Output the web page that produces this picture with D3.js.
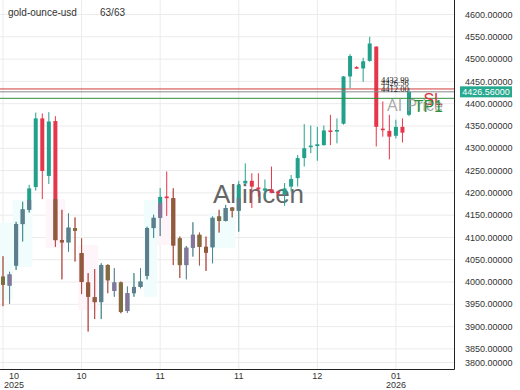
<!DOCTYPE html>
<html>
<head>
<meta charset="utf-8">
<script src="https://cdn.jsdelivr.net/npm/d3@7"></script>
<style>
  body { margin: 0; background: #fff; }
  svg { display: block; font-family: "Liberation Sans", Arial, sans-serif; }
</style>
</head>
<body>
<svg id="chart" width="520" height="390"></svg>
<script>
// ---- data ----
const symbol = "gold-ounce-usd";
const counter = "63/63";

const opens  = [4012,3992,4037,4130,4162,4213,4367,4238,4361,4094,4089,4121,4065,3999,3966,3955,4038,3980,3999,3935,
                3975,3989,4014,4121,4144,4192,4188,4098,4038,4077,4106,4079,4078,4147,4137,4167,4160,4221,4227,4212,
                4205,4208,4203,4197,4214,4233,4278,4303,4305,4307,4340,4338,4355,4461,4482,4479,4496,4528,4344,4339,
                4328,4348,4375];
const highs  = [4058,4023,4135,4180,4218,4380,4378,4381,4372,4162,4154,4145,4098,4020,4029,4042,4040,4031,4001,3990,
                4020,4031,4124,4151,4211,4248,4210,4102,4081,4134,4111,4102,4147,4162,4173,4168,4227,4266,4244,4244,
                4230,4259,4205,4222,4240,4285,4354,4351,4348,4351,4375,4367,4462,4511,4484,4503,4550,4529,4405,4375,
                4364,4367,4435];
const lows   = [3946,3951,4027,4091,4156,4205,4186,4220,4079,4006,4068,4046,3973,3889,3917,3917,3975,3967,3930,3931,
                3967,3986,4006,4099,4103,4148,4038,4009,4006,4057,4037,4025,4042,4111,4136,4145,4113,4220,4166,4192,
                4185,4199,4193,4171,4203,4214,4259,4289,4272,4306,4307,4311,4353,4435,4478,4449,4494,4304,4326,4275,
                4322,4313,4372];
const closes = [3994,4017,4130,4163,4210,4367,4249,4360,4094,4089,4122,4115,4000,3967,3955,4038,4004,3999,3933,3975,
                3989,4001,4121,4144,4191,4188,4082,4038,4077,4106,4079,4066,4144,4137,4166,4160,4218,4227,4214,4208,
                4210,4200,4199,4210,4231,4278,4300,4306,4309,4340,4337,4341,4461,4507,4479,4495,4535,4348,4341,4326,
                4348,4335,4426.56];

// muted candle tints (s slate, p purple, b brown, o olive); missing = normal colours
const tint = ["o","p","s","s","s","","","","b","b","s","o","b","b","b","s","o","p","o","p",
              "s","s","s","s","p","","b","o","p","p","o","b","s","o","s","o","s"];
// candles only tinted below this price
const tintBelow = { 4: 4184, 8: 4186, 24: 4177, 36: 4188 };

// faint highlight boxes: first / last candle, top / bottom price
const zoneType = ["c","c","p","p","c","p","c"];
const zoneFrom = [0, 2, 7, 12, 22, 24, 32];
const zoneTo   = [1, 4, 9, 14, 23, 25, 35];
const zoneHigh = [4133, 4184, 4186, 4083, 4184, 4191, 4155];
const zoneLow  = [3960, 4034, 4076, 3937, 3967, 4083, 4076];

const yTicks = [4600,4550,4500,4450,4400,4350,4300,4250,4200,4150,4100,4050,4000,3950,3900,3850,3800];
const tickIdx = [0, 12, 24, 36, 48, 60];
const tickMonths = ["10","10","11","11","12","01"];
const tickYears  = ["2025","","","","","2026"];

const levelNames  = ["SL", "AI Price", "TP1"];
const levelValues = [4432.99, 4426.56, 4412.00];
const lastPrice = 4426.56;

// ---- styles ----
const upColor = "#22a08c", downColor = "#e5374b";
const tintColors = { s: "#5f7d8d", p: "#88739b", b: "#8c5c3d", o: "#7c6e3f" };
const zoneColors = { c: "#f0fdfc", p: "#fef5fa" };
const levelColors = ["#d23a3a", "#8a8a8a", "#2f8f3a"];
const levelTextColors = ["#d8343c", "#9a9a9a", "#2f8f3a"];
const levelNameDy = [16, 19, 14];

const plotW = 454, plotH = 369;

const svg = d3.select("#chart");

const x = d3.scalePoint()
  .domain(d3.range(opens.length))
  .range([3, 409]);
const step = x.step();
const bodyW = 4;

const y = d3.scaleLinear()
  .domain([3805, 4632.5])
  .range([plotH, 0]);

const clampY = v => Math.min(y(v), plotH - 6.5);

const plot = svg.append("g");

// grid
plot.append("g")
  .selectAll("line")
  .data(yTicks)
  .join("line")
  .attr("x1", 0)
  .attr("x2", plotW)
  .attr("y1", d => clampY(d))
  .attr("y2", d => clampY(d))
  .attr("stroke", "#ebebeb");

plot.append("g")
  .selectAll("line")
  .data(tickIdx)
  .join("line")
  .attr("x1", d => x(d))
  .attr("x2", d => x(d))
  .attr("y1", 0)
  .attr("y2", plotH)
  .attr("stroke", "#ebebeb");

// highlight zones
plot.append("g")
  .selectAll("rect")
  .data(zoneType)
  .join("rect")
  .attr("x", (d, i) => x(zoneFrom[i]) - step / 2)
  .attr("width", (d, i) => x(zoneTo[i]) - x(zoneFrom[i]) + step)
  .attr("y", (d, i) => y(zoneHigh[i]))
  .attr("height", (d, i) => y(zoneLow[i]) - y(zoneHigh[i]))
  .attr("fill", d => zoneColors[d]);

// watermark
plot.append("text")
  .attr("x", 213)
  .attr("y", 203)
  .attr("font-size", 26)
  .attr("fill", "#666")
  .text("Allincen");

// candles
const candles = opens.map((o, i) => ({
  i, o, h: highs[i], l: lows[i], c: closes[i],
  tint: tint[i] || "", below: tintBelow[i]
}));

const baseColor = d => d.c >= d.o ? upColor : downColor;

const cg = plot.append("g");

cg.selectAll(".wick")
  .data(candles)
  .join("line")
  .attr("class", "wick")
  .attr("x1", d => x(d.i))
  .attr("x2", d => x(d.i))
  .attr("y1", d => y(d.h))
  .attr("y2", d => y(d.l))
  .attr("stroke", d => baseColor(d))
  .attr("stroke-width", 1);

cg.selectAll(".body")
  .data(candles)
  .join("rect")
  .attr("class", "body")
  .attr("x", d => x(d.i) - bodyW / 2)
  .attr("width", bodyW)
  .attr("y", d => y(Math.max(d.o, d.c)))
  .attr("height", d => Math.max(1.6, y(Math.min(d.o, d.c)) - y(Math.max(d.o, d.c))))
  .attr("fill", d => baseColor(d));

// tinted parts
const tinted = candles.filter(d => d.tint);

cg.selectAll(".twick")
  .data(tinted)
  .join("line")
  .attr("class", "twick")
  .attr("x1", d => x(d.i))
  .attr("x2", d => x(d.i))
  .attr("y1", d => y(d.below ? Math.min(d.h, d.below) : d.h))
  .attr("y2", d => y(d.l))
  .attr("stroke", d => tintColors[d.tint])
  .attr("stroke-opacity", 0.75);

cg.selectAll(".tbody")
  .data(tinted)
  .join("rect")
  .attr("class", "tbody")
  .attr("x", d => x(d.i) - bodyW / 2)
  .attr("width", bodyW)
  .attr("y", d => {
    const top = Math.max(d.o, d.c);
    return y(d.below ? Math.min(top, d.below) : top);
  })
  .attr("height", d => {
    const top = Math.max(d.o, d.c);
    const t = d.below ? Math.min(top, d.below) : top;
    return Math.max(1.6, y(Math.min(d.o, d.c)) - y(t));
  })
  .attr("fill", d => tintColors[d.tint]);

// levels
const lg = plot.append("g");
lg.selectAll("line")
  .data(levelValues)
  .join("line")
  .attr("x1", 0)
  .attr("x2", plotW)
  .attr("y1", d => y(d))
  .attr("y2", d => y(d))
  .attr("stroke", (d, i) => levelColors[i])
  .attr("stroke-width", 1);

lg.selectAll(".lv")
  .data(levelValues)
  .join("text")
  .attr("class", "lv")
  .attr("x", 381)
  .attr("y", d => y(d) - 6)
  .attr("font-family", "'Liberation Serif', 'DejaVu Serif', serif")
  .attr("font-size", 8.5)
  .attr("fill", "#222")
  .text(d => d.toFixed(2));

lg.selectAll(".ln")
  .data(levelNames)
  .join("text")
  .attr("class", "ln")
  .attr("x", 443)
  .attr("y", (d, i) => y(levelValues[i]) + levelNameDy[i])
  .attr("text-anchor", "end")
  .attr("font-size", 16)
  .attr("fill", (d, i) => levelTextColors[i])
  .attr("fill-opacity", (d, i) => i === 1 ? 0.85 : 1)
  .text(d => d);

// frame
svg.append("line")
  .attr("x1", plotW + 0.5).attr("x2", plotW + 0.5)
  .attr("y1", 0).attr("y2", plotH + 0.5)
  .attr("stroke", "#222");
svg.append("line")
  .attr("x1", 0).attr("x2", plotW + 0.5)
  .attr("y1", plotH + 0.5).attr("y2", plotH + 0.5)
  .attr("stroke", "#222");

// right axis labels
svg.append("g")
  .selectAll("text")
  .data(yTicks)
  .join("text")
  .attr("x", 465)
  .attr("y", d => clampY(d))
  .attr("dy", "0.35em")
  .attr("font-size", 9)
  .attr("fill", "#333")
  .text(d => d.toFixed(5));

// last price tag
const tag = svg.append("g").attr("transform", `translate(0,${y(lastPrice)})`);
tag.append("rect")
  .attr("x", 460)
  .attr("y", -5.5)
  .attr("width", 52)
  .attr("height", 11)
  .attr("fill", "#26a98f");
tag.append("text")
  .attr("x", 486)
  .attr("dy", "0.35em")
  .attr("text-anchor", "middle")
  .attr("font-size", 9)
  .attr("fill", "#fff")
  .text(lastPrice.toFixed(5));

// bottom labels
const xl = svg.append("g")
  .selectAll("g")
  .data(tickIdx)
  .join("g")
  .attr("transform", d => `translate(${Math.max(x(d), 14)},0)`);
xl.append("text")
  .attr("y", 378.5)
  .attr("text-anchor", "middle")
  .attr("font-size", 9)
  .attr("fill", "#333")
  .text((d, i) => tickMonths[i]);
xl.append("text")
  .attr("y", 387.5)
  .attr("text-anchor", "middle")
  .attr("font-size", 9)
  .attr("fill", "#333")
  .text((d, i) => tickYears[i]);

// title
svg.append("text")
  .attr("x", 8)
  .attr("y", 16)
  .attr("font-size", 10)
  .attr("fill", "#333")
  .text(symbol);
svg.append("text")
  .attr("x", 100)
  .attr("y", 16)
  .attr("font-size", 10)
  .attr("fill", "#333")
  .text(counter);
</script>
</body>
</html>
